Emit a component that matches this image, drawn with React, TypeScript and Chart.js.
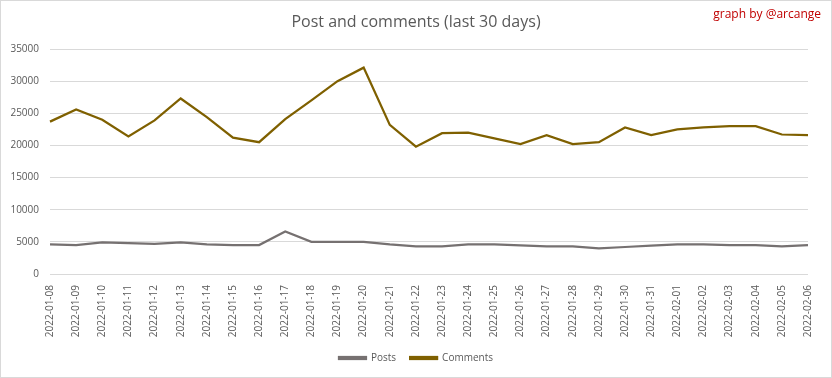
import React, { useEffect, useRef } from "react";
import { Chart, registerables } from "chart.js";

Chart.register(...registerables);

const dates = [
  "2022-01-08", "2022-01-09", "2022-01-10", "2022-01-11", "2022-01-12",
  "2022-01-13", "2022-01-14", "2022-01-15", "2022-01-16", "2022-01-17",
  "2022-01-18", "2022-01-19", "2022-01-20", "2022-01-21", "2022-01-22",
  "2022-01-23", "2022-01-24", "2022-01-25", "2022-01-26", "2022-01-27",
  "2022-01-28", "2022-01-29", "2022-01-30", "2022-01-31", "2022-02-01",
  "2022-02-02", "2022-02-03", "2022-02-04", "2022-02-05", "2022-02-06",
];

const posts = [
  4600, 4500, 4900, 4800, 4700, 4900, 4600, 4500, 4500, 6600,
  5000, 5000, 5000, 4600, 4300, 4300, 4600, 4600, 4450, 4300,
  4300, 4000, 4200, 4400, 4600, 4600, 4500, 4500, 4300, 4500,
];

const comments = [
  23700, 25600, 24000, 21400, 23900, 27300, 24400, 21200, 20500, 24100,
  27000, 30000, 32100, 23200, 19800, 21900, 22000, 21100, 20200, 21600,
  20200, 20500, 22800, 21600, 22500, 22800, 23000, 23000, 21700, 21600,
];

const yMax = 35000;
const yStep = 5000;

const titleText = "Post and comments (last 30 days)";
const creditText = "graph by @arcange";

const FONT = '"Open Sans", "DejaVu Sans", sans-serif';
const TEXT_COLOR = "#595959";

const creditPlugin = {
  id: "credit",
  afterDraw(chart: any) {
    const ctx = chart.ctx;
    ctx.save();
    ctx.font = `12px ${FONT}`;
    ctx.fillStyle = "#C00000";
    ctx.textAlign = "right";
    ctx.textBaseline = "middle";
    ctx.fillText(creditText, chart.width - 10, 14);
    ctx.restore();
  },
};

export default function App() {
  const ref = useRef<HTMLCanvasElement | null>(null);

  useEffect(() => {
    if (!ref.current) return;
    const chart = new Chart(ref.current, {
      type: "line",
      data: {
        labels: dates,
        datasets: [
          {
            label: "Posts",
            data: posts,
            borderColor: "#767171",
            backgroundColor: "#767171",
            borderWidth: 2.25,
            pointRadius: 0,
            tension: 0,
          },
          {
            label: "Comments",
            data: comments,
            borderColor: "#7F6000",
            backgroundColor: "#7F6000",
            borderWidth: 2.25,
            pointRadius: 0,
            tension: 0,
          },
        ],
      },
      options: {
        responsive: false,
        animation: false,
        layout: { padding: { left: 0, right: 0, top: 0, bottom: 4 } },
        plugins: {
          title: {
            display: true,
            text: titleText,
            color: TEXT_COLOR,
            font: { family: FONT, size: 16, weight: "normal" },
            padding: { top: 12, bottom: 16.8 },
          },
          legend: {
            position: "bottom",
            labels: {
              color: TEXT_COLOR,
              font: { family: FONT, size: 10 },
              boxWidth: 27,
              boxHeight: 2,
              padding: 14,
            },
          },
          tooltip: { enabled: false },
        },
        scales: {
          x: {
            grid: { display: false, drawTicks: false },
            border: { display: false },
            ticks: {
              color: TEXT_COLOR,
              font: { family: FONT, size: 10 },
              minRotation: 90,
              maxRotation: 90,
              autoSkip: false,
              padding: 11,
            },
            afterFit: (s: any) => {
              s.height = 65;
            },
          },
          y: {
            min: 0,
            max: yMax,
            grid: { color: "#D9D9D9", lineWidth: 1, drawTicks: false },
            border: { display: false },
            ticks: {
              stepSize: yStep,
              color: TEXT_COLOR,
              font: { family: FONT, size: 10 },
              padding: 11,
              callback: (v: any) => String(v),
            },
            afterFit: (s: any) => {
              s.width = 49;
            },
          },
          yRight: {
            type: "linear",
            position: "right",
            display: true,
            min: 0,
            max: yMax,
            grid: { display: false, drawTicks: false },
            border: { display: false },
            ticks: { display: false },
            afterFit: (s: any) => {
              s.width = 15;
            },
          },
        },
      },
      plugins: [creditPlugin],
    } as any);
    return () => chart.destroy();
  }, []);

  return (
    <div
      style={{
        position: "absolute",
        left: 0,
        top: 0,
        width: 832,
        height: 378,
        boxSizing: "border-box",
        border: "1px solid #D9D9D9",
        background: "#fff",
      }}
    >
      <canvas ref={ref} width={830} height={376} style={{ display: "block" }} />
    </div>
  );
}
